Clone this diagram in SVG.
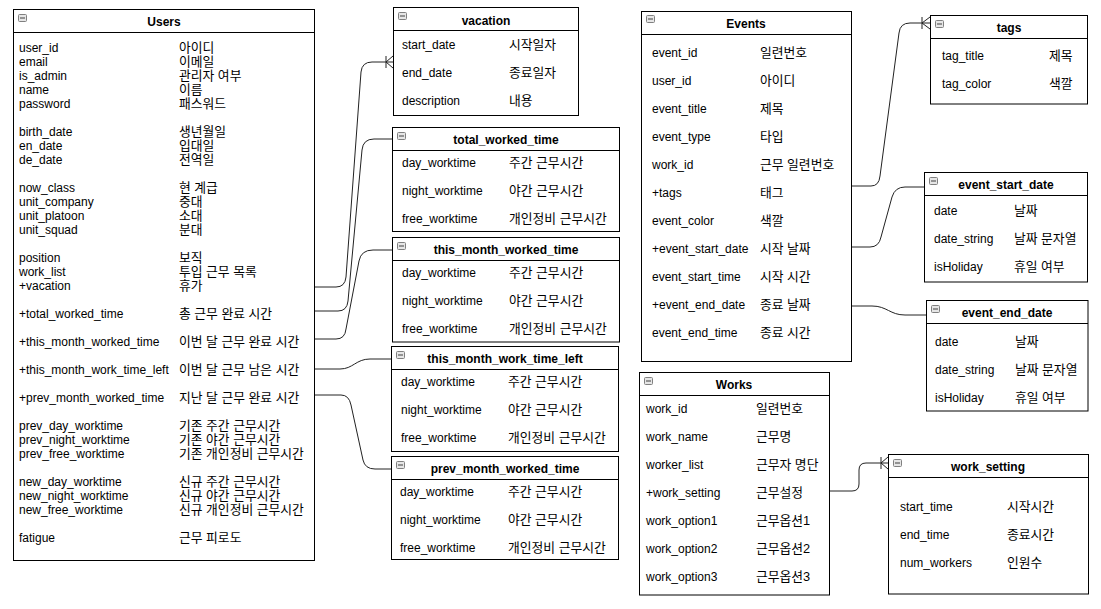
<svg xmlns="http://www.w3.org/2000/svg" xmlns:xlink="http://www.w3.org/1999/xlink" width="1101" height="609" viewBox="0 0 1101 609">
<style>
.box{fill:#fff;stroke:#000;stroke-width:1}
.hl{stroke:#000;stroke-width:1}
.t{font-family:"Liberation Sans","Noto Sans CJK KR",Arial,sans-serif;font-size:12px;fill:#000}
.k{font-family:"Liberation Sans","Noto Sans CJK KR",sans-serif;font-size:12.8px;fill:#000}
.h{font-family:"Liberation Sans",Arial,sans-serif;font-size:12px;font-weight:bold;fill:#000;text-anchor:middle}
.c{fill:none;stroke:#222;stroke-width:1}
</style>
<defs>
<symbol id="ic" viewBox="0 0 9 8" width="9" height="8">
<rect x="0.5" y="0.5" width="8" height="7" rx="1" fill="#e6e6e6" stroke="#808080"/>
<line x1="2" y1="4" x2="7" y2="4" stroke="#404040"/>
</symbol>
</defs>

<g id="connectors">
<path class="c" d="M314,287 L336,287 Q345,287 346,277 L361,72 Q362,62 372,62 L393,62"/>
<path class="c" d="M386,56 L386,68 M386,62 L393,56 M386,62 L393,68"/>
<path class="c" d="M314,311 L338,311 Q347,311 348,301 L362,150 Q363,139 374,139 L392,139"/>
<path class="c" d="M314,339 L336,339 Q345,339 346,329 L359,261 Q361,250 373,250 L392,250"/>
<path class="c" d="M314,369 L340,369 C353,369 356,359 370,359 L391,359"/>
<path class="c" d="M314,395 L341,395 Q349,395 351,405 L363,460 Q365,469 375,469 L391,469"/>
<path class="c" d="M851,186 L871,186 Q879,186 880,176 L899,33 Q900,23 910,23 L930,23"/>
<path class="c" d="M922,17 L922,29 M922,23 L930,17 M922,23 L930,29"/>
<path class="c" d="M851,247 L870,247 Q879,247 881,237 L892,197 Q895,187 905,187 L924,187"/>
<path class="c" d="M851,306 L872,306 C887,306 890,315 905,315 L926,315"/>
<path class="c" d="M829,491 L852,491 Q859,491 859,484 L859,470 Q859,463 866,463 L888,463"/>
<path class="c" d="M881,457 L881,469 M881,463 L888,457 M881,463 L888,469"/>
</g>

<g id="users">
<rect class="box" x="13.5" y="9.5" width="301" height="551"/>
<line class="hl" x1="13.5" y1="32.5" x2="314.5" y2="32.5"/>
<use href="#ic" x="18" y="14"/>
<text class="h" x="164" y="26">Users</text>
<text class="t" x="19" y="52">user_id</text><text class="k" x="179" y="52">아이디</text>
<text class="t" x="19" y="66">email</text><text class="k" x="179" y="66">이메일</text>
<text class="t" x="19" y="80">is_admin</text><text class="k" x="179" y="80">관리자 여부</text>
<text class="t" x="19" y="94">name</text><text class="k" x="179" y="94">이름</text>
<text class="t" x="19" y="108">password</text><text class="k" x="179" y="108">패스워드</text>
<text class="t" x="19" y="136">birth_date</text><text class="k" x="179" y="136">생년월일</text>
<text class="t" x="19" y="150">en_date</text><text class="k" x="179" y="150">입대일</text>
<text class="t" x="19" y="164">de_date</text><text class="k" x="179" y="164">전역일</text>
<text class="t" x="19" y="192">now_class</text><text class="k" x="179" y="192">현 계급</text>
<text class="t" x="19" y="206">unit_company</text><text class="k" x="179" y="206">중대</text>
<text class="t" x="19" y="220">unit_platoon</text><text class="k" x="179" y="220">소대</text>
<text class="t" x="19" y="234">unit_squad</text><text class="k" x="179" y="234">분대</text>
<text class="t" x="19" y="262">position</text><text class="k" x="179" y="262">보직</text>
<text class="t" x="19" y="276">work_list</text><text class="k" x="179" y="276">투입 근무 목록</text>
<text class="t" x="19" y="290">+vacation</text><text class="k" x="179" y="290">휴가</text>
<text class="t" x="19" y="318">+total_worked_time</text><text class="k" x="179" y="318">총 근무 완료 시간</text>
<text class="t" x="19" y="346">+this_month_worked_time</text><text class="k" x="179" y="346">이번 달 근무 완료 시간</text>
<text class="t" x="19" y="374">+this_month_work_time_left</text><text class="k" x="179" y="374">이번 달 근무 남은 시간</text>
<text class="t" x="19" y="402">+prev_month_worked_time</text><text class="k" x="179" y="402">지난 달 근무 완료 시간</text>
<text class="t" x="19" y="430">prev_day_worktime</text><text class="k" x="179" y="430">기존 주간 근무시간</text>
<text class="t" x="19" y="444">prev_night_worktime</text><text class="k" x="179" y="444">기존 야간 근무시간</text>
<text class="t" x="19" y="458">prev_free_worktime</text><text class="k" x="179" y="458">기존 개인정비 근무시간</text>
<text class="t" x="19" y="486">new_day_worktime</text><text class="k" x="179" y="486">신규 주간 근무시간</text>
<text class="t" x="19" y="500">new_night_worktime</text><text class="k" x="179" y="500">신규 야간 근무시간</text>
<text class="t" x="19" y="514">new_free_worktime</text><text class="k" x="179" y="514">신규 개인정비 근무시간</text>
<text class="t" x="19" y="542">fatigue</text><text class="k" x="179" y="542">근무 피로도</text>
</g>

<g id="vacation">
<rect class="box" x="393.5" y="7.5" width="185" height="108"/>
<line class="hl" x1="393.5" y1="30.5" x2="578.5" y2="30.5"/>
<use href="#ic" x="398" y="12"/>
<text class="h" x="486" y="24.5">vacation</text>
<text class="t" x="402" y="49">start_date</text><text class="k" x="509" y="49">시작일자</text>
<text class="t" x="402" y="77">end_date</text><text class="k" x="509" y="77">종료일자</text>
<text class="t" x="402" y="105">description</text><text class="k" x="509" y="105">내용</text>
</g>

<g id="total_worked_time">
<rect class="box" x="392.5" y="127.5" width="227" height="104"/>
<line class="hl" x1="392.5" y1="150.5" x2="619.5" y2="150.5"/>
<use href="#ic" x="397" y="132"/>
<text class="h" x="506" y="143.5">total_worked_time</text>
<text class="t" x="402" y="167">day_worktime</text><text class="k" x="509" y="167">주간 근무시간</text>
<text class="t" x="402" y="195">night_worktime</text><text class="k" x="509" y="195">야간 근무시간</text>
<text class="t" x="402" y="223">free_worktime</text><text class="k" x="509" y="223">개인정비 근무시간</text>
</g>

<g id="this_month_worked_time">
<rect class="box" x="392.5" y="237.5" width="227" height="104.5"/>
<line class="hl" x1="392.5" y1="260.5" x2="619.5" y2="260.5"/>
<use href="#ic" x="397" y="242"/>
<text class="h" x="506" y="253.5">this_month_worked_time</text>
<text class="t" x="402" y="276.5">day_worktime</text><text class="k" x="509" y="276.5">주간 근무시간</text>
<text class="t" x="402" y="304.5">night_worktime</text><text class="k" x="509" y="304.5">야간 근무시간</text>
<text class="t" x="402" y="332.5">free_worktime</text><text class="k" x="509" y="332.5">개인정비 근무시간</text>
</g>

<g id="this_month_work_time_left">
<rect class="box" x="391.5" y="346.5" width="227" height="105"/>
<line class="hl" x1="391.5" y1="369.5" x2="618.5" y2="369.5"/>
<use href="#ic" x="396" y="351"/>
<text class="h" x="505" y="362.5">this_month_work_time_left</text>
<text class="t" x="401" y="385.5">day_worktime</text><text class="k" x="508" y="385.5">주간 근무시간</text>
<text class="t" x="401" y="413.5">night_worktime</text><text class="k" x="508" y="413.5">야간 근무시간</text>
<text class="t" x="401" y="441.5">free_worktime</text><text class="k" x="508" y="441.5">개인정비 근무시간</text>
</g>

<g id="prev_month_worked_time">
<rect class="box" x="391.5" y="456.5" width="227" height="103"/>
<line class="hl" x1="391.5" y1="479.5" x2="618.5" y2="479.5"/>
<use href="#ic" x="396" y="461"/>
<text class="h" x="505" y="472.5">prev_month_worked_time</text>
<text class="t" x="400" y="495.5">day_worktime</text><text class="k" x="508" y="495.5">주간 근무시간</text>
<text class="t" x="400" y="523.5">night_worktime</text><text class="k" x="508" y="523.5">야간 근무시간</text>
<text class="t" x="400" y="551.5">free_worktime</text><text class="k" x="508" y="551.5">개인정비 근무시간</text>
</g>

<g id="events">
<rect class="box" x="641.5" y="11.5" width="210" height="350"/>
<line class="hl" x1="641.5" y1="34.5" x2="851.5" y2="34.5"/>
<use href="#ic" x="646" y="15"/>
<text class="h" x="746" y="27.5">Events</text>
<text class="t" x="652" y="56.5">event_id</text><text class="k" x="760" y="56.5">일련번호</text>
<text class="t" x="652" y="84.5">user_id</text><text class="k" x="760" y="84.5">아이디</text>
<text class="t" x="652" y="112.5">event_title</text><text class="k" x="760" y="112.5">제목</text>
<text class="t" x="652" y="140.5">event_type</text><text class="k" x="760" y="140.5">타입</text>
<text class="t" x="652" y="168.5">work_id</text><text class="k" x="760" y="168.5">근무 일련번호</text>
<text class="t" x="652" y="196.5">+tags</text><text class="k" x="760" y="196.5">태그</text>
<text class="t" x="652" y="224.5">event_color</text><text class="k" x="760" y="224.5">색깔</text>
<text class="t" x="652" y="252.5">+event_start_date</text><text class="k" x="760" y="252.5">시작 날짜</text>
<text class="t" x="652" y="280.5">event_start_time</text><text class="k" x="760" y="280.5">시작 시간</text>
<text class="t" x="652" y="308.5">+event_end_date</text><text class="k" x="760" y="308.5">종료 날짜</text>
<text class="t" x="652" y="336.5">event_end_time</text><text class="k" x="760" y="336.5">종료 시간</text>
</g>

<g id="tags">
<rect class="box" x="930.5" y="15.5" width="157" height="88.5"/>
<line class="hl" x1="930.5" y1="38.5" x2="1087.5" y2="38.5"/>
<use href="#ic" x="935" y="20"/>
<text class="h" x="1009" y="31.5">tags</text>
<text class="t" x="942" y="60">tag_title</text><text class="k" x="1049" y="60">제목</text>
<text class="t" x="942" y="88">tag_color</text><text class="k" x="1049" y="88">색깔</text>
</g>

<g id="event_start_date">
<rect class="box" x="924.5" y="172.5" width="163" height="109.5"/>
<line class="hl" x1="924.5" y1="195.5" x2="1087.5" y2="195.5"/>
<use href="#ic" x="929" y="177"/>
<text class="h" x="1006" y="188.5">event_start_date</text>
<text class="t" x="934" y="214.5">date</text><text class="k" x="1014" y="214.5">날짜</text>
<text class="t" x="934" y="242.5">date_string</text><text class="k" x="1014" y="242.5">날짜 문자열</text>
<text class="t" x="934" y="270.5">isHoliday</text><text class="k" x="1014" y="270.5">휴일 여부</text>
</g>

<g id="event_end_date">
<rect class="box" x="926.5" y="300.5" width="161.5" height="110.5"/>
<line class="hl" x1="926.5" y1="323.5" x2="1088" y2="323.5"/>
<use href="#ic" x="931" y="305"/>
<text class="h" x="1007" y="316.5">event_end_date</text>
<text class="t" x="935" y="345.5">date</text><text class="k" x="1015" y="345.5">날짜</text>
<text class="t" x="935" y="373.5">date_string</text><text class="k" x="1015" y="373.5">날짜 문자열</text>
<text class="t" x="935" y="401.5">isHoliday</text><text class="k" x="1015" y="401.5">휴일 여부</text>
</g>

<g id="works">
<rect class="box" x="639.5" y="372.5" width="190" height="222.5"/>
<line class="hl" x1="639.5" y1="395.5" x2="829.5" y2="395.5"/>
<use href="#ic" x="644" y="377"/>
<text class="h" x="734" y="388.5">Works</text>
<text class="t" x="646" y="413">work_id</text><text class="k" x="756" y="413">일련번호</text>
<text class="t" x="646" y="441">work_name</text><text class="k" x="756" y="441">근무명</text>
<text class="t" x="646" y="469">worker_list</text><text class="k" x="756" y="469">근무자 명단</text>
<text class="t" x="646" y="497">+work_setting</text><text class="k" x="756" y="497">근무설정</text>
<text class="t" x="646" y="525">work_option1</text><text class="k" x="756" y="525">근무옵션1</text>
<text class="t" x="646" y="553">work_option2</text><text class="k" x="756" y="553">근무옵션2</text>
<text class="t" x="646" y="581">work_option3</text><text class="k" x="756" y="581">근무옵션3</text>
</g>

<g id="work_setting">
<rect class="box" x="888.5" y="454.5" width="200" height="139.5"/>
<line class="hl" x1="888.5" y1="477.5" x2="1088.5" y2="477.5"/>
<use href="#ic" x="893" y="459"/>
<text class="h" x="988" y="471">work_setting</text>
<text class="t" x="900" y="511">start_time</text><text class="k" x="1007" y="511">시작시간</text>
<text class="t" x="900" y="539">end_time</text><text class="k" x="1007" y="539">종료시간</text>
<text class="t" x="900" y="567">num_workers</text><text class="k" x="1007" y="567">인원수</text>
</g>
</svg>
